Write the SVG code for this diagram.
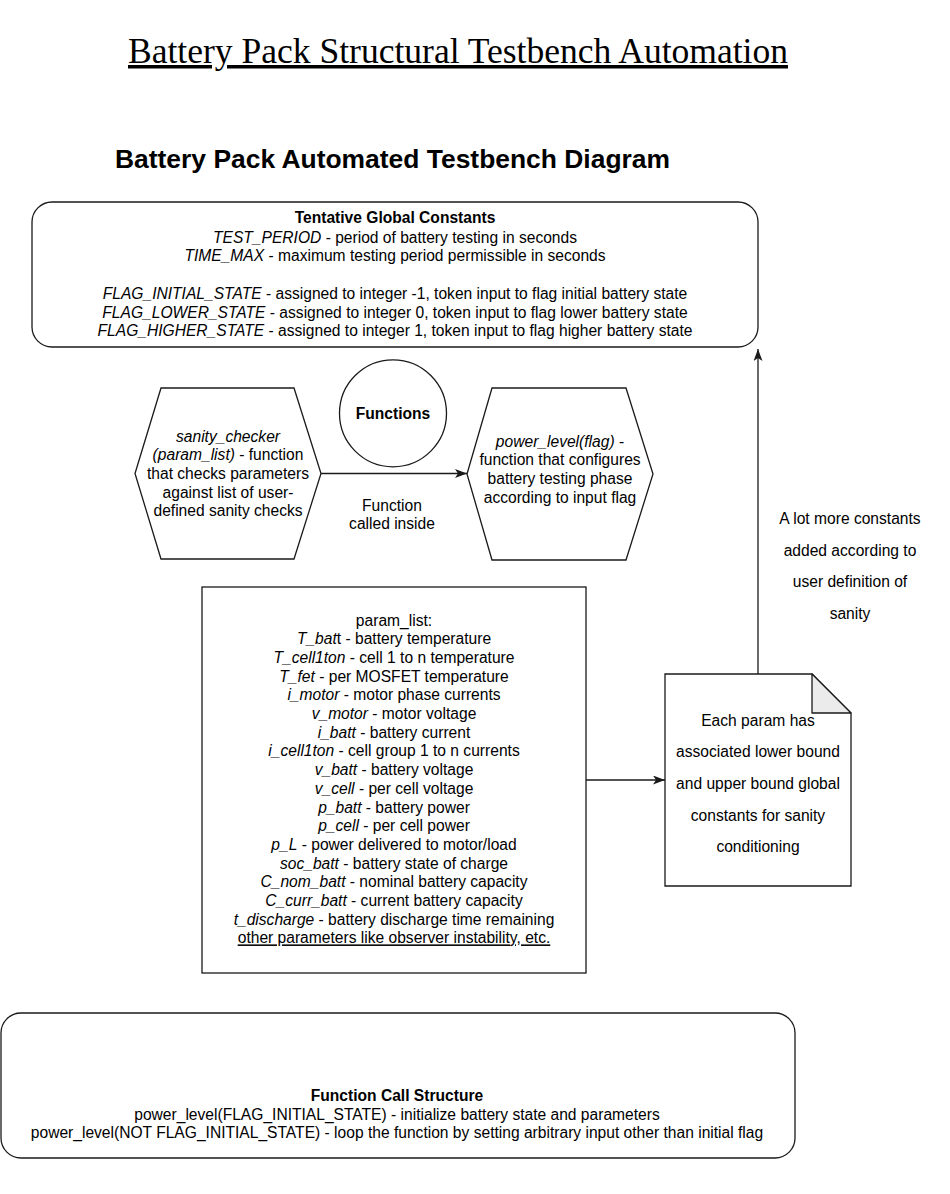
<svg xmlns="http://www.w3.org/2000/svg" width="950" height="1194" viewBox="0 0 950 1194">
<style>
.s{fill:#fff;stroke:#1a1a1a;stroke-width:1.3}
.t{font-family:"Liberation Sans",Arial,Helvetica,sans-serif;font-size:15.6px;fill:#000;text-anchor:middle}
.b{font-weight:bold}
.i{font-style:italic}
.c{fill:none;stroke:#1a1a1a;stroke-width:1.3}
</style>
<defs>
<marker id="ah" viewBox="0 0 12 9" refX="12" refY="4.5" markerWidth="12" markerHeight="9" markerUnits="userSpaceOnUse" orient="auto">
<path d="M0,0 L12,4.5 L0,9 L3,4.5 Z" fill="#1a1a1a"/>
</marker>
</defs>
<rect width="950" height="1194" fill="#fff"/>
<g id="title">
<text x="458" y="63" font-family="'Liberation Serif','Times New Roman',serif" font-size="35" text-anchor="middle" text-decoration="underline" textLength="660" lengthAdjust="spacingAndGlyphs">Battery Pack Structural Testbench Automation</text>
</g>
<g id="subtitle">
<text x="392.5" y="168" class="t b" font-size="26" style="font-size:26px" textLength="555" lengthAdjust="spacingAndGlyphs">Battery Pack Automated Testbench Diagram</text>
</g>
<g id="global-constants">
<rect class="s" x="32" y="202" width="726" height="145" rx="20" ry="20"/>
<text class="t b" x="395" y="222.5">Tentative Global Constants</text>
<text class="t" x="395" y="242.7"><tspan class="i">TEST_PERIOD</tspan> - period of battery testing in seconds</text>
<text class="t" x="395" y="261.4"><tspan class="i">TIME_MAX</tspan> - maximum testing period permissible in seconds</text>
<text class="t" x="395" y="298.8"><tspan class="i">FLAG_INITIAL_STATE</tspan> - assigned to integer -1, token input to flag initial battery state</text>
<text class="t" x="395" y="317.5"><tspan class="i">FLAG_LOWER_STATE</tspan> - assigned to integer 0, token input to flag lower battery state</text>
<text class="t" x="395" y="336.2"><tspan class="i">FLAG_HIGHER_STATE</tspan> - assigned to integer 1, token input to flag higher battery state</text>
</g>
<g id="functions">
<circle class="s" cx="393" cy="413.3" r="53.5"/>
<text class="t b" x="393" y="419">Functions</text>
</g>
<g id="sanity-checker">
<polygon class="s" points="161,388 294,388 321,473.5 294,559 161,559 135,473.5"/>
<text class="t i" x="228" y="441.6">sanity_checker</text>
<text class="t" x="228" y="460.3"><tspan class="i">(param_list)</tspan> - function</text>
<text class="t" x="228" y="479">that checks parameters</text>
<text class="t" x="228" y="497.7">against list of user-</text>
<text class="t" x="228" y="516.4">defined sanity checks</text>
</g>
<g id="power-level">
<polygon class="s" points="492,388 626,388 653,474 626,560 492,560 467,474"/>
<text class="t" x="560" y="446.5"><tspan class="i">power_level(flag)</tspan> -</text>
<text class="t" x="560" y="465.2">function that configures</text>
<text class="t" x="560" y="483.9">battery testing phase</text>
<text class="t" x="560" y="502.6">according to input flag</text>
</g>
<g id="param-list">
<rect class="s" x="202" y="587" width="384" height="386"/>
<text class="t" x="394" y="625.5">param_list:</text>
<text class="t" x="394" y="644.2"><tspan class="i">T_bat</tspan>t - battery temperature</text>
<text class="t" x="394" y="662.9"><tspan class="i">T_cell1ton</tspan> - cell 1 to n temperature</text>
<text class="t" x="394" y="681.6"><tspan class="i">T_fet</tspan> - per MOSFET temperature</text>
<text class="t" x="394" y="700.3"><tspan class="i">i_motor</tspan> - motor phase currents</text>
<text class="t" x="394" y="719"><tspan class="i">v_motor</tspan> - motor voltage</text>
<text class="t" x="394" y="737.7"><tspan class="i">i_batt</tspan> - battery current</text>
<text class="t" x="394" y="756.4"><tspan class="i">i_cell1ton</tspan> - cell group 1 to n currents</text>
<text class="t" x="394" y="775.1"><tspan class="i">v_batt</tspan> - battery voltage</text>
<text class="t" x="394" y="793.8"><tspan class="i">v_cell</tspan> - per cell voltage</text>
<text class="t" x="394" y="812.5"><tspan class="i">p_batt</tspan> - battery power</text>
<text class="t" x="394" y="831.2"><tspan class="i">p_cell</tspan> - per cell power</text>
<text class="t" x="394" y="849.9"><tspan class="i">p_L</tspan> - power delivered to motor/load</text>
<text class="t" x="394" y="868.6"><tspan class="i">soc_batt</tspan> - battery state of charge</text>
<text class="t" x="394" y="887.3"><tspan class="i">C_nom_batt</tspan> - nominal battery capacity</text>
<text class="t" x="394" y="906"><tspan class="i">C_curr_batt</tspan> - current battery capacity</text>
<text class="t" x="394" y="924.7"><tspan class="i">t_discharge</tspan> - battery discharge time remaining</text>
<text class="t" x="394" y="943.4" text-decoration="underline">other parameters like observer instability, etc.</text>
</g>
<g id="bounds-note">
<path class="s" d="M665,674 L812,674 L851,713 L851,886 L665,886 Z"/>
<path d="M812,674 L812,713 L851,713 Z" fill="#ebebeb" stroke="#1a1a1a" stroke-width="1.3" stroke-linejoin="round"/>
<text class="t" x="758" y="725.5">Each param has</text>
<text class="t" x="758" y="757.2">associated lower bound</text>
<text class="t" x="758" y="788.8">and upper bound global</text>
<text class="t" x="758" y="820.5">constants for sanity</text>
<text class="t" x="758" y="852.2">conditioning</text>
</g>
<g id="call-structure">
<rect class="s" x="1" y="1013" width="794" height="145" rx="20" ry="20"/>
<text class="t b" x="397" y="1101">Function Call Structure</text>
<text class="t" x="397" y="1119.7">power_level(FLAG_INITIAL_STATE) - initialize battery state and parameters</text>
<text class="t" x="397" y="1138.4">power_level(NOT FLAG_INITIAL_STATE) - loop the function by setting arbitrary input other than initial flag</text>
</g>
<g id="connectors">
<line class="c" x1="321" y1="473.5" x2="467" y2="473.5" marker-end="url(#ah)"/>
<line class="c" x1="586" y1="780" x2="665" y2="780" marker-end="url(#ah)"/>
<line class="c" x1="758" y1="674" x2="758" y2="349" marker-end="url(#ah)"/>
<text class="t" x="392" y="510.5">Function</text>
<text class="t" x="392" y="529">called inside</text>
<text class="t" x="850" y="523.8">A lot more constants</text>
<text class="t" x="850" y="555.5">added according to</text>
<text class="t" x="850" y="587.2">user definition of</text>
<text class="t" x="850" y="618.8">sanity</text>
</g>
</svg>
